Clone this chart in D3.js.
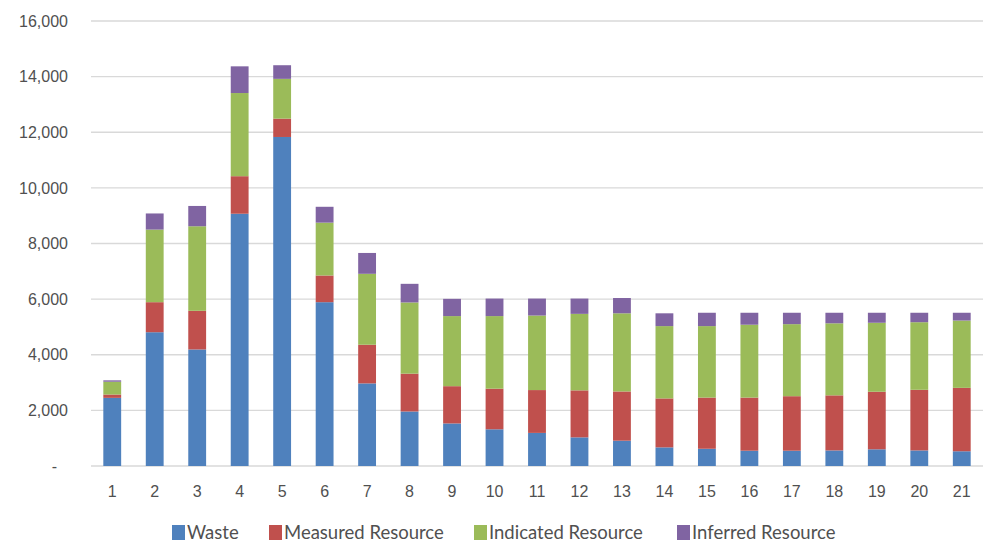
<!DOCTYPE html>
<html>
<head>
<meta charset="utf-8">
<script src="https://cdn.jsdelivr.net/npm/d3@7"></script>
<style>
  body { margin: 0; background: #fff; }
  svg { display: block; font-family: Lato, "Open Sans", sans-serif; }
  .axis text { fill: #505050; font-size: 16px; }
  .legend text { fill: #505050; font-size: 18.5px; }
</style>
</head>
<body>
<svg id="chart" width="989" height="543"></svg>
<script>
// periods 1..21
const periods = d3.range(1, 22).map(String)
const seriesNames = ['Waste', 'Measured Resource', 'Indicated Resource', 'Inferred Resource']
const waste     = [2450, 4810, 4190, 9070, 11830, 5890, 2970, 1960, 1530, 1320, 1190, 1030, 910, 670, 620, 550, 550, 560, 600, 560, 530]
const measured  = [120, 1080, 1390, 1350, 660, 960, 1390, 1360, 1340, 1460, 1540, 1690, 1770, 1760, 1840, 1910, 1960, 1980, 2070, 2180, 2280]
const indicated = [460, 2610, 3040, 2990, 1430, 1900, 2550, 2560, 2520, 2610, 2680, 2750, 2810, 2600, 2570, 2620, 2590, 2590, 2480, 2430, 2420]
const inferred  = [50, 580, 730, 960, 490, 570, 750, 670, 620, 630, 610, 550, 550, 460, 480, 430, 410, 380, 360, 340, 280]
const yTicks = [0, 2000, 4000, 6000, 8000, 10000, 12000, 14000, 16000]
const colors = ['#4f81bd', '#c0504d', '#9bbb59', '#8064a2']

const svg = d3.select('#chart')
const margin = {top: 21, right: 6, bottom: 77, left: 91}
const width = +svg.attr('width') - margin.left - margin.right
const height = +svg.attr('height') - margin.top - margin.bottom
const g = svg.append('g').attr('transform', 'translate(' + margin.left + ',' + margin.top + ')')

const rows = periods.map((p, i) => ({
    period: p,
    'Waste': waste[i],
    'Measured Resource': measured[i],
    'Indicated Resource': indicated[i],
    'Inferred Resource': inferred[i]
}))
const stacked = d3.stack().keys(seriesNames)(rows)

const x = d3.scaleBand().domain(periods).range([0, width]).paddingInner(0.58).paddingOuter(0.29)
const y = d3.scaleLinear().domain([0, 16000]).range([height, 0])

// gridlines
g.append('g')
    .selectAll('line')
    .data(yTicks)
    .join('line')
    .attr('x1', 0).attr('x2', width)
    .attr('y1', d => y(d)).attr('y2', d => y(d))
    .attr('stroke', '#d9d9d9')
    .attr('stroke-width', 1.3)

// y axis labels
const yAxis = g.append('g')
    .attr('class', 'axis')
    .attr('transform', 'translate(-23,0)')
    .call(d3.axisLeft(y).tickValues(yTicks).tickSize(0).tickPadding(0)
        .tickFormat(d => d === 0 ? '-' : d3.format(',')(d)))
yAxis.select('.domain').remove()
yAxis.selectAll('.tick').filter(d => d === 0).select('text').attr('dx', -11)

// x axis labels
const xAxis = g.append('g')
    .attr('class', 'axis')
    .attr('transform', 'translate(0,' + height + ')')
    .call(d3.axisBottom(x).tickSize(0).tickPadding(20))
xAxis.select('.domain').remove()

// bars
g.append('g')
    .selectAll('g')
    .data(stacked)
    .join('g')
    .attr('fill', (d, i) => colors[i])
    .selectAll('rect')
    .data(d => d)
    .join('rect')
    .attr('x', d => x(d.data.period))
    .attr('width', x.bandwidth())
    .attr('y', d => y(d[1]))
    .attr('height', d => y(d[0]) - y(d[1]))

// legend
const legendX = [172, 269, 474, 677]
const legend = svg.append('g').attr('class', 'legend')
const items = legend.selectAll('g')
    .data(seriesNames)
    .join('g')
    .attr('transform', (d, i) => 'translate(' + legendX[i] + ',525)')
items.append('rect')
    .attr('width', 13).attr('height', 15)
    .attr('fill', (d, i) => colors[i])
items.append('text')
    .attr('x', 15).attr('y', 14)
    .text(d => d)
</script>
</body>
</html>
